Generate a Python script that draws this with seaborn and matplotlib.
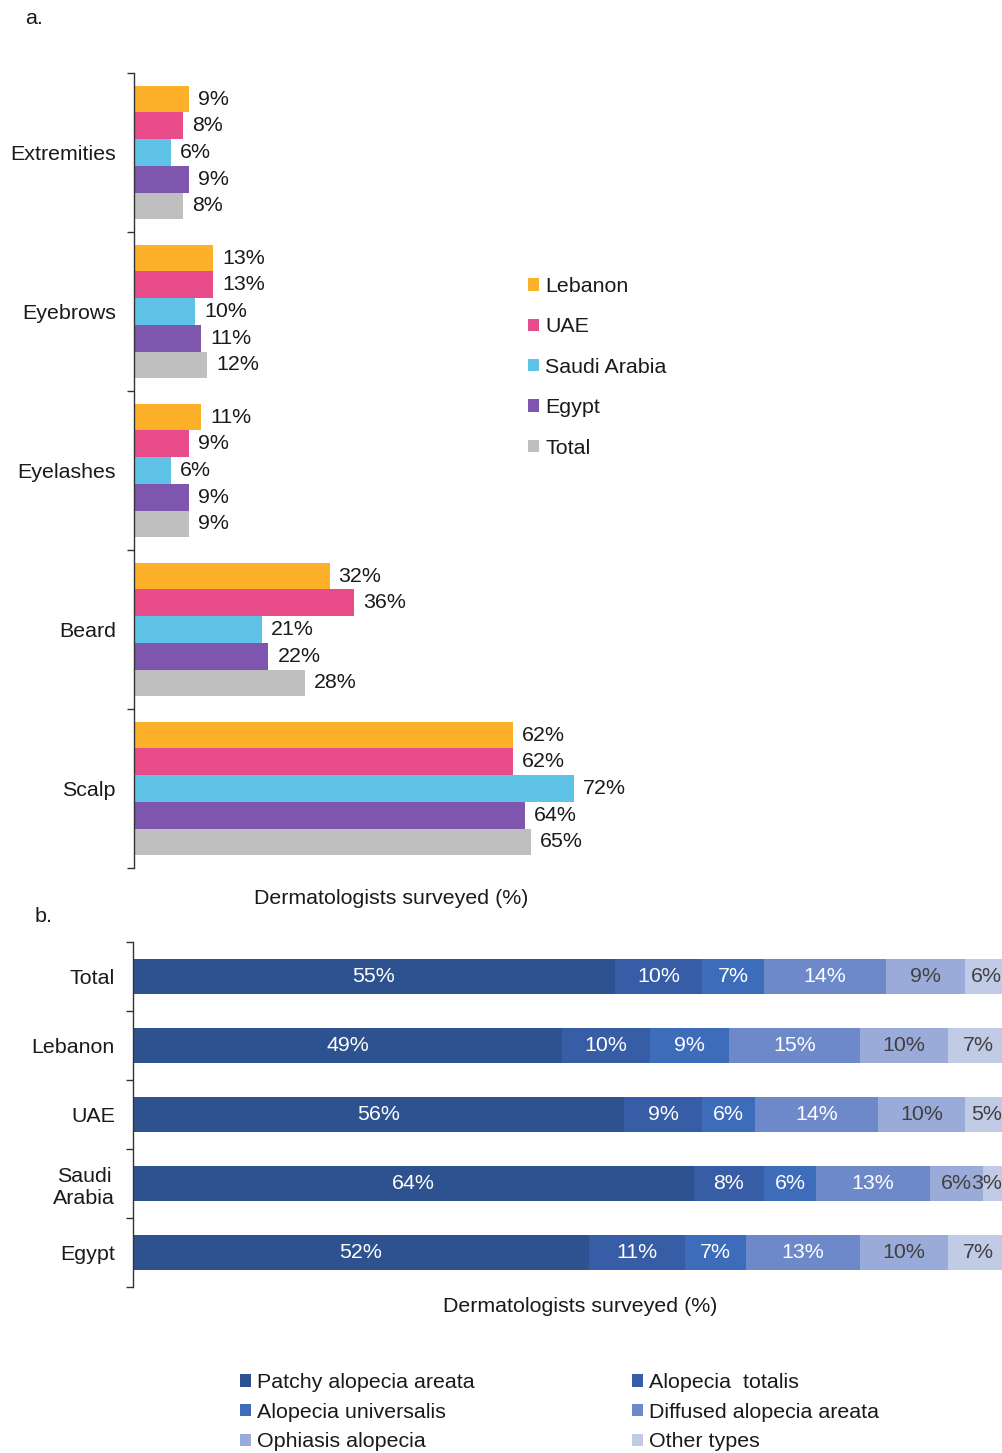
import numpy as np
import pandas as pd
import matplotlib
matplotlib.use("Agg")
import matplotlib.pyplot as plt
from matplotlib.patches import Patch
import seaborn as sns

# ---- Panel a: affected sites by country ----
sites = ["Extremities", "Eyebrows", "Eyelashes", "Beard", "Scalp"]
countries = ["Lebanon", "UAE", "Saudi Arabia", "Egypt", "Total"]
lebanon = [9, 13, 11, 32, 62]
uae = [8, 13, 9, 36, 62]
saudi_arabia = [6, 10, 6, 21, 72]
egypt = [9, 11, 9, 22, 64]
total = [8, 12, 9, 28, 65]
country_colors = ["#FDB12A", "#E84C8A", "#5FC3E8", "#7F56AE", "#BFBFBF"]

# ---- Panel b: alopecia types by country ----
regions = ["Total", "Lebanon", "UAE", "Saudi\nArabia", "Egypt"]
types = ["Patchy alopecia areata", "Alopecia  totalis", "Alopecia universalis",
         "Diffused alopecia areata", "Ophiasis alopecia", "Other types"]
patchy = [55, 49, 56, 64, 52]
totalis = [10, 10, 9, 8, 11]
universalis = [7, 9, 6, 6, 7]
diffused = [14, 15, 14, 13, 13]
ophiasis = [9, 10, 10, 6, 10]
other = [6, 7, 5, 3, 7]
type_colors = ["#2E528F", "#385DA7", "#3D6CBB", "#6D89CA", "#9AABD9", "#C1CBE6"]
label_colors = ["white", "white", "white", "white", "#404040", "#404040"]

sns.set_theme(style="white")
plt.rcParams["font.family"] = ["Liberation Sans", "DejaVu Sans"]
TXT = "#1a1a1a"
FS = 15.4

W, H = 1003, 1453
fig = plt.figure(figsize=(W / 100, H / 100), dpi=100)


def rect(l, t, r, b):
    return [l / W, 1 - b / H, (r - l) / W, (b - t) / H]


# ================= Panel a =================
axA = fig.add_axes(rect(134, 73, 745, 868))
series = [lebanon, uae, saudi_arabia, egypt, total]
dfA = pd.DataFrame({
    "site": np.repeat([sites], len(countries), axis=0).ravel(),
    "country": np.repeat(countries, len(sites)),
    "pct": np.concatenate(series),
})
sns.barplot(data=dfA, x="pct", y="site", hue="country", order=sites,
            hue_order=countries, palette=country_colors, orient="h",
            width=0.84, saturation=1, legend=False, linewidth=0, ax=axA)
for cont in axA.containers:
    for t in axA.bar_label(cont, fmt="{:g}%", padding=6.5, fontsize=FS, color=TXT):
        t.set_va("center")

axA.set_xlim(0, 100)
axA.set_ylim(4.5, -0.5)
axA.set_xlabel("")
axA.set_ylabel("")
axA.set_xticks([])
axA.set_yticks(range(len(sites)))
axA.set_yticklabels(sites, fontsize=FS, color=TXT)
axA.set_yticks(np.arange(-0.5, len(sites)), minor=True)
axA.tick_params(axis="y", which="major", length=0, pad=13)
axA.tick_params(axis="y", which="minor", left=True, length=5, width=1,
                color="#333333", direction="out")
for s in ["top", "right", "bottom"]:
    axA.spines[s].set_visible(False)
axA.spines["left"].set_color("#333333")
axA.spines["left"].set_linewidth(1)

fig.text(391 / W, 1 - 898 / H, "Dermatologists surveyed (%)", ha="center",
         va="center", fontsize=FS, color=TXT)
fig.text(25 / W, 1 - 18 / H, "a.", ha="left", va="center", fontsize=FS, color=TXT)

handlesA = [Patch(facecolor=c, edgecolor="none") for c in country_colors]
fig.legend(handlesA, countries, loc="upper left",
           bbox_to_anchor=(528 / W, 1 - 277 / H), frameon=False,
           fontsize=FS, handlelength=0.5, handleheight=0.5,
           handletextpad=0.3, labelspacing=1.0, labelcolor=TXT,
           borderaxespad=0, borderpad=0)

# ================= Panel b =================
axB = fig.add_axes(rect(133, 942, 1009, 1287))
parts = [patchy, totalis, universalis, diffused, ophiasis, other]
cum = np.cumsum(np.array(parts, dtype=float), axis=0)
# stacked bars: draw cumulative totals from the outermost segment inwards
for i in range(len(parts) - 1, -1, -1):
    dfB = pd.DataFrame({"region": regions, "cum": cum[i]})
    sns.barplot(data=dfB, x="cum", y="region", order=regions,
                color=type_colors[i], orient="h", width=0.5,
                saturation=1, linewidth=0, ax=axB)
for i in range(len(parts)):
    starts = cum[i] - np.array(parts[i])
    for j, r in enumerate(regions):
        lo = starts[j]
        hi = min(cum[i][j], 100)
        xc = min((lo + hi) / 2, 97.4)
        axB.text(xc, j, f"{parts[i][j]}%", ha="center",
                 va="center", fontsize=FS, color=label_colors[i])

axB.set_xlim(0, 100)
axB.set_ylim(4.5, -0.5)
axB.set_xlabel("")
axB.set_ylabel("")
axB.set_xticks([])
axB.set_yticks(range(len(regions)))
axB.set_yticklabels(regions, fontsize=FS, color=TXT, multialignment="center")
axB.set_yticks(np.arange(-0.5, len(regions)), minor=True)
axB.tick_params(axis="y", which="major", length=0, pad=13)
axB.tick_params(axis="y", which="minor", left=True, length=5, width=1,
                color="#333333", direction="out")
for s in ["top", "right", "bottom"]:
    axB.spines[s].set_visible(False)
axB.spines["left"].set_color("#333333")
axB.spines["left"].set_linewidth(1)

fig.text(580 / W, 1 - 1307 / H, "Dermatologists surveyed (%)", ha="center",
         va="center", fontsize=FS, color=TXT)
fig.text(35 / W, 1 - 917 / H, "b.", ha="left", va="center", fontsize=FS, color=TXT)

handlesB = [Patch(facecolor=c, edgecolor="none") for c in type_colors]
orderB = [0, 2, 4, 1, 3, 5]
fig.legend([handlesB[k] for k in orderB], [types[k] for k in orderB],
           loc="upper left", ncol=2, bbox_to_anchor=(240 / W, 1 - 1373 / H),
           frameon=False, fontsize=FS, handlelength=0.5, handleheight=0.5,
           handletextpad=0.3, labelspacing=0.5, columnspacing=7.35,
           labelcolor=TXT, borderaxespad=0, borderpad=0)

fig.savefig("out.png", dpi=100)
